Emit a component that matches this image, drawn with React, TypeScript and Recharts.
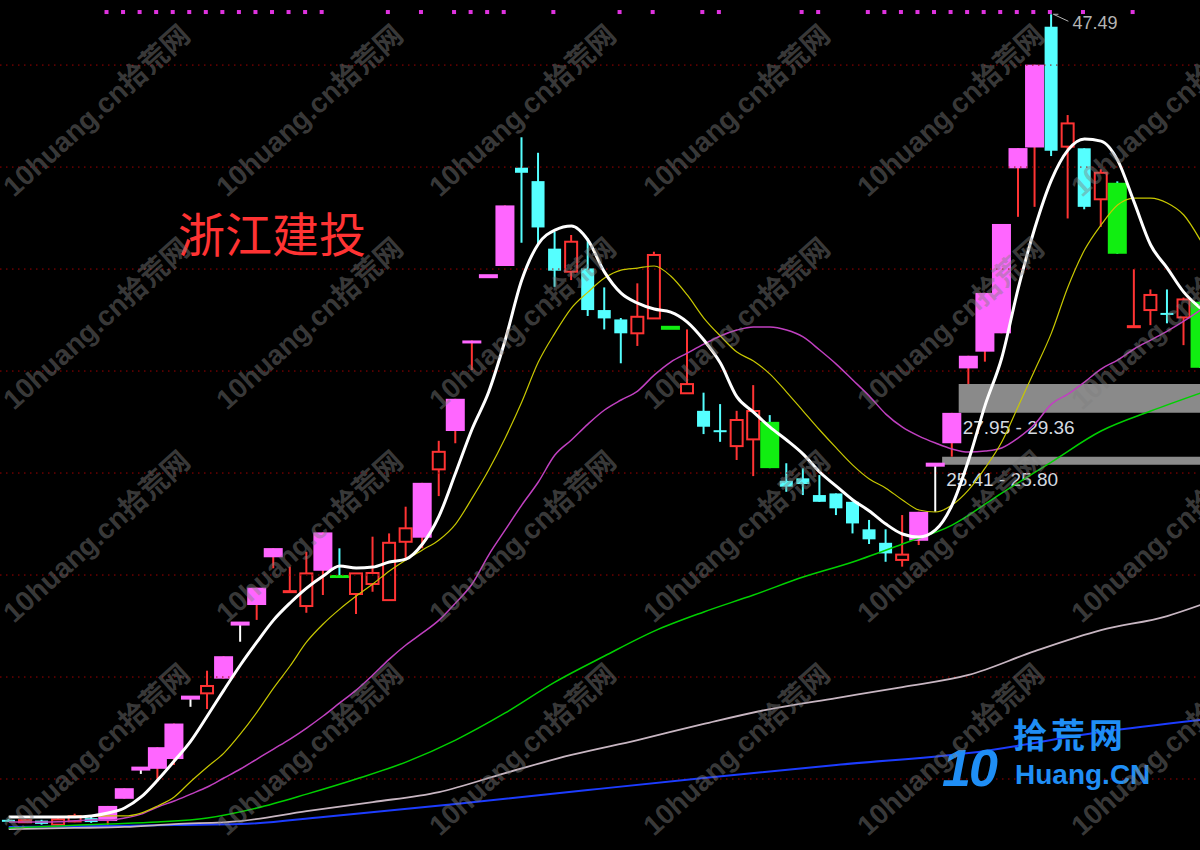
import { Bar, ComposedChart, Line, ReferenceArea, ReferenceDot, ReferenceLine, Scatter, XAxis, YAxis } from "recharts";

// candle index of the first bar (bars run from -6 to 66)
const START = -6;

const OPEN = [
  8.0, 7.88, 7.96, 7.76, 7.92, 8.08,
  7.94, 9.03, 10.51, 10.5, 10.98, 13.99, 14.2, 14.92, 17.62, 18.53, 20.87, 19.19, 18.48, 20.21, 20.0, 19.07, 19.56, 18.77, 21.63, 21.83,
  25.18, 27.06, 31.49, 34.65, 35.15, 39.97, 39.31, 36.0, 34.87, 35.03, 32.99, 32.53, 31.85, 32.58, 32.12, 28.91, 28.05, 27.1, 26.32, 26.65,
  27.51, 24.62, 24.74, 23.92, 24.0, 23.59, 22.24, 21.58, 20.74, 21.68, 25.41, 26.46, 30.13, 30.95, 31.85, 39.94, 40.96, 46.88, 41.0, 40.92,
  38.42, 39.23, 32.18, 32.99, 32.85, 32.63, 33.4,
];
const HIGH = [
  8.05, 8.02, 8.0, 8.08, 8.3, 8.15,
  8.68, 9.55, 10.51, 11.56, 12.72, 13.99, 15.31, 16.02, 17.62, 19.38, 21.32, 20.41, 21.14, 22.09, 21.31, 20.08, 21.88, 22.04, 23.35, 24.52,
  26.58, 28.64, 31.5, 34.65, 38.12, 41.46, 40.7, 36.83, 36.67, 36.5, 34.1, 32.6, 34.3, 35.85, 32.12, 32.04, 28.94, 28.38, 28.05, 29.31,
  27.84, 25.48, 25.23, 24.9, 24.0, 23.59, 22.7, 22.24, 22.94, 23.1, 25.41, 27.95, 30.75, 33.83, 37.21, 40.93, 45.02, 47.49, 42.55, 40.92,
  39.89, 39.3, 34.99, 34.0, 34.0, 33.6, 33.4,
];
const LOW = [
  7.92, 7.85, 7.76, 7.72, 7.88, 7.85,
  7.75, 9.03, 10.25, 9.87, 10.69, 13.54, 13.43, 14.92, 16.73, 17.8, 20.33, 19.19, 18.15, 19.02, 19.88, 18.09, 19.18, 18.77, 20.82, 21.31,
  23.87, 26.46, 30.05, 34.65, 35.15, 36.29, 36.23, 34.13, 34.46, 32.7, 32.04, 30.38, 31.23, 32.58, 32.12, 28.91, 26.91, 26.53, 25.64, 24.85,
  25.24, 24.08, 23.92, 23.59, 22.94, 22.04, 21.52, 20.65, 20.41, 21.47, 23.1, 25.8, 29.36, 30.46, 31.85, 37.56, 38.05, 40.54, 37.48, 37.93,
  37.07, 35.75, 32.18, 32.25, 32.34, 31.27, 30.16,
];
const CLOSE = [
  7.95, 7.98, 7.8, 8.02, 8.18, 7.89,
  8.68, 9.55, 10.51, 11.56, 12.72, 13.99, 14.56, 16.02, 17.62, 19.38, 21.32, 19.21, 20.08, 22.09, 19.88, 20.08, 20.1, 21.58, 22.29, 24.52,
  26.04, 28.64, 31.5, 34.65, 38.12, 39.72, 37.04, 34.92, 36.34, 32.99, 32.58, 31.85, 32.66, 35.69, 32.12, 29.36, 27.27, 27.05, 27.6, 28.04,
  25.24, 24.33, 24.46, 23.59, 23.27, 22.53, 21.75, 21.06, 21.0, 23.1, 25.41, 27.95, 30.75, 33.83, 37.21, 40.93, 45.02, 40.8, 42.14, 38.05,
  39.72, 35.75, 32.2, 33.73, 32.8, 33.51, 30.16,
];

// moving averages, one value per bar
const MA5 = [
  8.14, 8.14, 8.14, 8.14, 8.14, 8.19,
  8.33, 8.58, 9.12, 9.95, 10.88, 11.86, 13.09, 14.36, 15.59, 16.72, 17.79, 18.63, 19.36, 19.95, 20.44, 20.34, 20.39, 20.64, 20.78, 21.52,
  22.89, 25.0, 27.16, 28.97, 31.52, 34.46, 36.23, 36.91, 37.11, 36.42, 34.85, 33.82, 33.33, 33.04, 32.89, 32.4, 31.52, 30.39, 28.73, 27.99,
  27.25, 26.62, 25.93, 25.05, 24.36, 23.68, 23.14, 22.5, 22.01, 21.86, 22.21, 23.43, 25.64, 28.33, 30.64, 34.07, 37.01, 39.36, 40.83, 41.37,
  41.27, 40.34, 38.28, 36.18, 35.05, 33.87, 33.09,
];
const MA10 = [
  8.15, 8.15, 8.15, 8.16, 8.17, 8.18,
  8.19, 8.19, 8.33, 8.68, 9.12, 9.88, 10.59, 11.27, 12.21, 13.28, 14.46, 15.54, 16.72, 17.6, 18.33, 18.97, 19.56, 20.2, 20.74, 21.23,
  21.72, 22.5, 23.77, 25.15, 26.72, 28.48, 30.44, 31.86, 33.09, 33.87, 34.56, 34.95, 35.05, 35.15, 34.66, 33.73, 32.6, 31.72, 30.93, 30.49,
  29.85, 28.97, 28.04, 27.11, 26.23, 25.39, 24.71, 24.26, 23.68, 23.19, 23.09, 23.43, 24.17, 25.25, 26.52, 28.28, 30.05, 31.86, 34.12, 35.93,
  37.16, 38.14, 38.48, 38.48, 38.24, 37.65, 36.42,
];
const MA20 = [
  7.89, 7.89, 7.89, 7.9, 7.95, 7.99,
  7.99, 8.09, 8.28, 8.63, 8.92, 9.26, 9.61, 10.05, 10.49, 10.98, 11.47, 11.96, 12.5, 13.09, 13.73, 14.36, 15.1, 15.88, 16.57, 17.16,
  17.79, 18.63, 19.56, 20.98, 22.21, 23.43, 24.56, 25.88, 26.62, 27.4, 28.09, 28.58, 29.02, 29.8, 30.44, 30.88, 31.32, 31.72, 32.01, 32.16,
  32.16, 32.01, 31.67, 31.03, 30.34, 29.56, 28.77, 27.89, 27.25, 26.81, 26.47, 26.18, 26.03, 26.08, 26.23, 26.72, 27.4, 28.38, 28.87, 29.46,
  30.1, 30.54, 31.08, 31.52, 31.96, 32.45, 32.99,
];
// slower averages, read at a few bars only
const MA60_AT = [-6, -3, 0, 3, 6, 9, 12, 15, 18, 21, 24, 27, 30, 33, 36, 39, 42, 45, 48, 51, 54, 57, 60, 63, 66];
const MA60 = [7.6, 7.7, 7.79, 7.89, 8.09, 8.58, 9.26, 10.0, 10.83, 11.91, 13.24, 14.75, 16.03, 17.25, 18.19, 19.02, 19.9, 20.64, 21.52, 22.45, 24.02, 25.54, 27.06, 28.04, 28.92];
const MA120_AT = [-6, -2, 1, 4, 8, 12, 16, 20, 24, 28, 32, 36, 40, 44, 48, 52, 56, 60, 64, 66];
const MA120 = [7.55, 7.6, 7.65, 7.79, 7.94, 8.43, 8.87, 9.36, 10.29, 11.18, 11.91, 12.7, 13.43, 13.97, 14.51, 15.1, 16.27, 17.3, 17.99, 18.53];
const MA250_AT = [-6, 0, 4, 8, 13, 21, 29, 36, 44, 52, 60, 66];
const MA250 = [7.65, 7.7, 7.75, 7.79, 8.14, 8.77, 9.46, 10.05, 10.69, 11.27, 12.3, 12.89];

// bars flagged by the pink dots along the top
const SIGNALS = [0, 1, 2, 3, 4, 5, 6, 7, 8, 9, 10, 11, 12, 13, 17, 19, 21, 22, 23, 24, 27, 31, 33, 36, 37, 42, 43, 46, 47, 48, 49, 50, 51, 52, 53, 54, 55, 56, 57, 59, 62];
const SIGNAL_LEVEL = 47.6;

// open price gaps
const GAP_FROM = [50, 51];
const GAP_LOW = [25.41, 27.95];
const GAP_HIGH = [25.8, 29.36];

const GRID_PRICES = [10, 15, 20, 25, 30, 35, 40, 45];

const X_MIN = -6.526;
const X_MAX = 65.98;
const Y_MIN = 6.52;
const Y_MAX = 48.19;

const RED = "#ff3333";
const CYAN = "#55ffff";
const PINK = "#ff66ff";
const GREEN = "#11ee11";
const WHITE = "#ffffff";

const candles = OPEN.map((o, k) => ({
  i: START + k,
  o,
  h: HIGH[k],
  l: LOW[k],
  c: CLOSE[k],
  prev: k > 0 ? CLOSE[k - 1] : null,
}));

const toSeries = (vals: number[], at?: number[]) => vals.map((v, k) => ({ i: at ? at[k] : START + k, v }));

function Candle(props: any) {
  const { x, y, width, height, payload } = props;
  if (!payload) return null;
  const cx = x + width / 2;
  const top = Math.min(y, y + height);
  const span = Math.abs(height);
  const { o, h, l, c, prev } = payload;
  const k = h > l ? span / (h - l) : 0;
  const py = (v: number) => top + (h - v) * k;
  const limitUp = prev != null && c >= prev * 1.1 - 0.01;
  const limitDown = prev != null && c <= prev * 0.9 + 0.01;
  const wick = c > o ? RED : c < o ? CYAN : WHITE;
  const bTop = py(Math.max(o, c));
  const bBot = py(Math.min(o, c));
  let body;
  if (c === o) {
    if (limitUp) body = <rect x={cx - 9.5} y={py(c) - 2} width={19} height={4} fill={PINK} />;
    else if (limitDown) body = <rect x={cx - 9.5} y={py(c) - 2} width={19} height={4} fill={GREEN} />;
    else body = <line x1={cx - 6.5} x2={cx + 6.5} y1={py(c)} y2={py(c)} stroke={WHITE} strokeWidth={2} />;
  } else if (c > o) {
    if (limitUp) body = <rect x={cx - 9.5} y={bTop} width={19} height={Math.max(3, bBot - bTop)} fill={PINK} />;
    else body = <rect x={cx - 6} y={bTop} width={12} height={Math.max(1, bBot - bTop)} fill="#000" stroke={RED} strokeWidth={2} />;
  } else {
    if (limitDown) body = <rect x={cx - 9.5} y={bTop} width={19} height={Math.max(3, bBot - bTop)} fill={GREEN} />;
    else body = <rect x={cx - 6.5} y={bTop} width={13} height={Math.max(2, bBot - bTop)} fill={CYAN} />;
  }
  return (
    <g>
      {h > l && <line x1={cx} x2={cx} y1={py(h)} y2={py(l)} stroke={wick} strokeWidth={2} />}
      {body}
    </g>
  );
}

const peakHigh = Math.max(...HIGH);
const peakI = START + HIGH.indexOf(peakHigh);

const WM_COLS = [14, 227, 440, 654, 868, 1082];
const WM_ROWS = [198, 411, 624, 837];

const maLine = (data: any[], color: string, w: number) => (
  <Line
    data={data}
    dataKey="v"
    type="monotone"
    stroke={color}
    strokeWidth={w}
    dot={false}
    activeDot={false}
    legendType="none"
    isAnimationActive={false}
  />
);

const App = () => {
  return (
    <div style={{ position: "absolute", left: 0, top: 0, width: 1200, height: 850, background: "#000", overflow: "hidden" }}>
      <ComposedChart width={1200} height={850} data={candles} margin={{ top: 0, right: 0, bottom: 0, left: 0 }}>
        <XAxis type="number" dataKey="i" domain={[X_MIN, X_MAX]} allowDataOverflow hide />
        <YAxis type="number" domain={[Y_MIN, Y_MAX]} allowDataOverflow hide />
        {GRID_PRICES.map((p) => (
          <ReferenceLine key={p} y={p} stroke="#a00000" strokeDasharray="1.5 4.5" />
        ))}
        {GAP_FROM.map((f, k) => (
          <ReferenceArea
            key={f}
            x1={f + 0.4}
            x2={X_MAX}
            y1={GAP_LOW[k]}
            y2={GAP_HIGH[k]}
            fill="#8a8a8a"
            fillOpacity={1}
            stroke="none"
            label={(p: any) => {
              const vb = p.viewBox || {};
              return (
                <text x={vb.x + 4} y={vb.y + vb.height + 21} fill="#d4dae0" fontSize={19} fontFamily="Liberation Sans, Arial, sans-serif">
                  {GAP_LOW[k].toFixed(2)} - {GAP_HIGH[k].toFixed(2)}
                </text>
              );
            }}
          />
        ))}
        <Bar dataKey={(d: any) => [d.l, d.h]} barSize={14} shape={<Candle />} isAnimationActive={false} />
        {maLine(toSeries(MA250, MA250_AT), "#1c3cff", 2)}
        {maLine(toSeries(MA120, MA120_AT), "#c8b6c2", 1.8)}
        {maLine(toSeries(MA60, MA60_AT), "#00d000", 1.5)}
        {maLine(toSeries(MA20), "#c040c0", 1.5)}
        {maLine(toSeries(MA10), "#c8c800", 1.2)}
        {maLine(toSeries(MA5), "#ffffff", 3)}
        <Scatter
          data={SIGNALS.map((i) => ({ i, s: SIGNAL_LEVEL }))}
          dataKey="s"
          isAnimationActive={false}
          shape={(p: any) => <rect x={p.cx - 3.5} y={p.cy - 2} width={4} height={4} fill="#e033e0" />}
        />
        <ReferenceDot
          x={peakI}
          y={peakHigh}
          r={0}
          shape={(p: any) => (
            <g>
              <line x1={p.cx + 2} y1={p.cy} x2={p.cx + 17} y2={p.cy + 7} stroke="#b4b4b4" strokeWidth={1} />
              <line x1={p.cx + 2} y1={p.cy} x2={p.cx + 7} y2={p.cy} stroke="#b4b4b4" strokeWidth={1} />
              <text x={p.cx + 21} y={p.cy + 15} fill="#b4b4b4" fontSize={18} fontFamily="Liberation Sans, Arial, sans-serif">
                {peakHigh.toFixed(2)}
              </text>
            </g>
          )}
        />
      </ComposedChart>
      <svg width={1200} height={850} style={{ position: "absolute", left: 0, top: 0, pointerEvents: "none" }}>
        <text x={178} y={252} fill={RED} fontSize={47} fontFamily="Noto Sans CJK SC, sans-serif">
          浙江建投
        </text>
        <text x={1013} y={748} fill="#1f8ef5" fontSize={34} fontWeight="bold" letterSpacing={4} fontFamily="Noto Sans CJK SC, sans-serif">
          拾荒网
        </text>
        <text x={942} y={786} fill="#1f8ef5" fontSize={52} fontWeight={900} fontStyle="italic" letterSpacing={-2} fontFamily="Liberation Sans, Arial, sans-serif">
          10
        </text>
        <text x={1015} y={784} fill="#1f8ef5" fontSize={28} fontWeight="bold" fontFamily="Liberation Sans, Arial, sans-serif">
          Huang.CN
        </text>
        {WM_ROWS.map((wy) =>
          WM_COLS.map((wx) => (
            <text
              key={`${wx}-${wy}`}
              x={wx}
              y={wy}
              transform={`rotate(-42 ${wx} ${wy})`}
              fill="#808080"
              fillOpacity={0.45}
              fontSize={28}
              fontWeight="bold"
              fontFamily="Liberation Sans, Noto Sans CJK SC, sans-serif"
            >
              10huang.cn拾荒网
            </text>
          ))
        )}
      </svg>
    </div>
  );
};

export default App;
